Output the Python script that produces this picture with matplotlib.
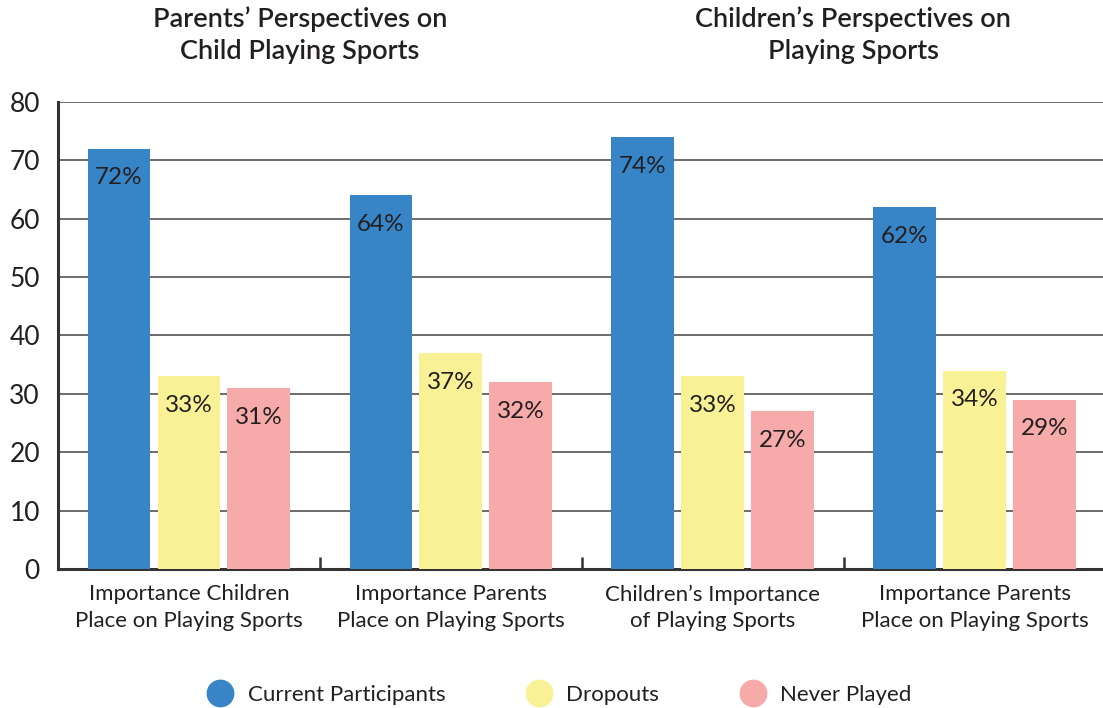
import numpy as np
import matplotlib
matplotlib.use("Agg")
import matplotlib.pyplot as plt
from matplotlib.lines import Line2D

categories = ["Importance Children\nPlace on Playing Sports",
              "Importance Parents\nPlace on Playing Sports",
              "Children\u2019s Importance\nof Playing Sports",
              "Importance Parents\nPlace on Playing Sports"]
series_names = ["Current Participants", "Dropouts", "Never Played"]
current = [72, 64, 74, 62]
dropouts = [33, 37, 33, 34]
never = [31, 32, 27, 29]
colors = ["#3785C7", "#F8F196", "#F7AAAA"]

plt.rcParams['font.family'] = ['Lato', 'DejaVu Sans']
txt = "#231F20"

fig = plt.figure(figsize=(11.03, 7.08), dpi=100)
ax = fig.add_axes([0.0526, 0.1963, 0.9474, 0.6597])

x = np.arange(len(categories))
w = 0.24
step = 0.267
for i, vals in enumerate([current, dropouts, never]):
    bars = ax.bar(x + (i - 1) * step, vals, width=w, color=colors[i], zorder=3)
    for b, v in zip(bars, vals):
        ax.annotate(f"{v}%", (b.get_x() + b.get_width() / 2, v),
                    xytext=(0, -21), textcoords="offset points",
                    ha="center", va="center", fontsize=17.5, color=txt, zorder=4)

ax.set_xlim(-0.5, 3.49)
ax.set_ylim(0, 80)
ax.set_yticks(range(0, 81, 10))
ax.tick_params(axis="y", length=0, pad=13, labelsize=19, labelcolor=txt)
ax.set_xticks(x)
ax.set_xticklabels(categories, fontsize=16, color=txt, linespacing=1.42)
ax.tick_params(axis="x", length=0, pad=11)
ax.set_xticks([0.5, 1.5, 2.5], minor=True)
ax.tick_params(axis="x", which="minor", direction="in", length=9, width=1.8, color="#333333")
ax.grid(axis="y", color="#444444", linewidth=1.1, zorder=0)
for s in ["top", "right"]:
    ax.spines[s].set_visible(False)
for s in ["left", "bottom"]:
    ax.spines[s].set_linewidth(2.2)
    ax.spines[s].set_color("#333333")

fig.text(300 / 1103, 1 - 35 / 708, "Parents\u2019 Perspectives on\nChild Playing Sports",
         ha="center", va="center", fontsize=19.5, fontweight="semibold", color=txt, linespacing=1.35)
fig.text(853 / 1103, 1 - 35 / 708, "Children\u2019s Perspectives on\nPlaying Sports",
         ha="center", va="center", fontsize=19.5, fontweight="semibold", color=txt, linespacing=1.35)

handles = [Line2D([], [], marker="o", linestyle="none", markersize=19,
                  markerfacecolor=c, markeredgecolor=c) for c in colors]
fig.legend(handles, series_names, ncol=3, loc="center", bbox_to_anchor=(0.503, 1 - 695 / 708),
           frameon=False, fontsize=16, handletextpad=0.25, columnspacing=3.2,
           labelcolor=txt)

fig.savefig("out.png", dpi=100)
